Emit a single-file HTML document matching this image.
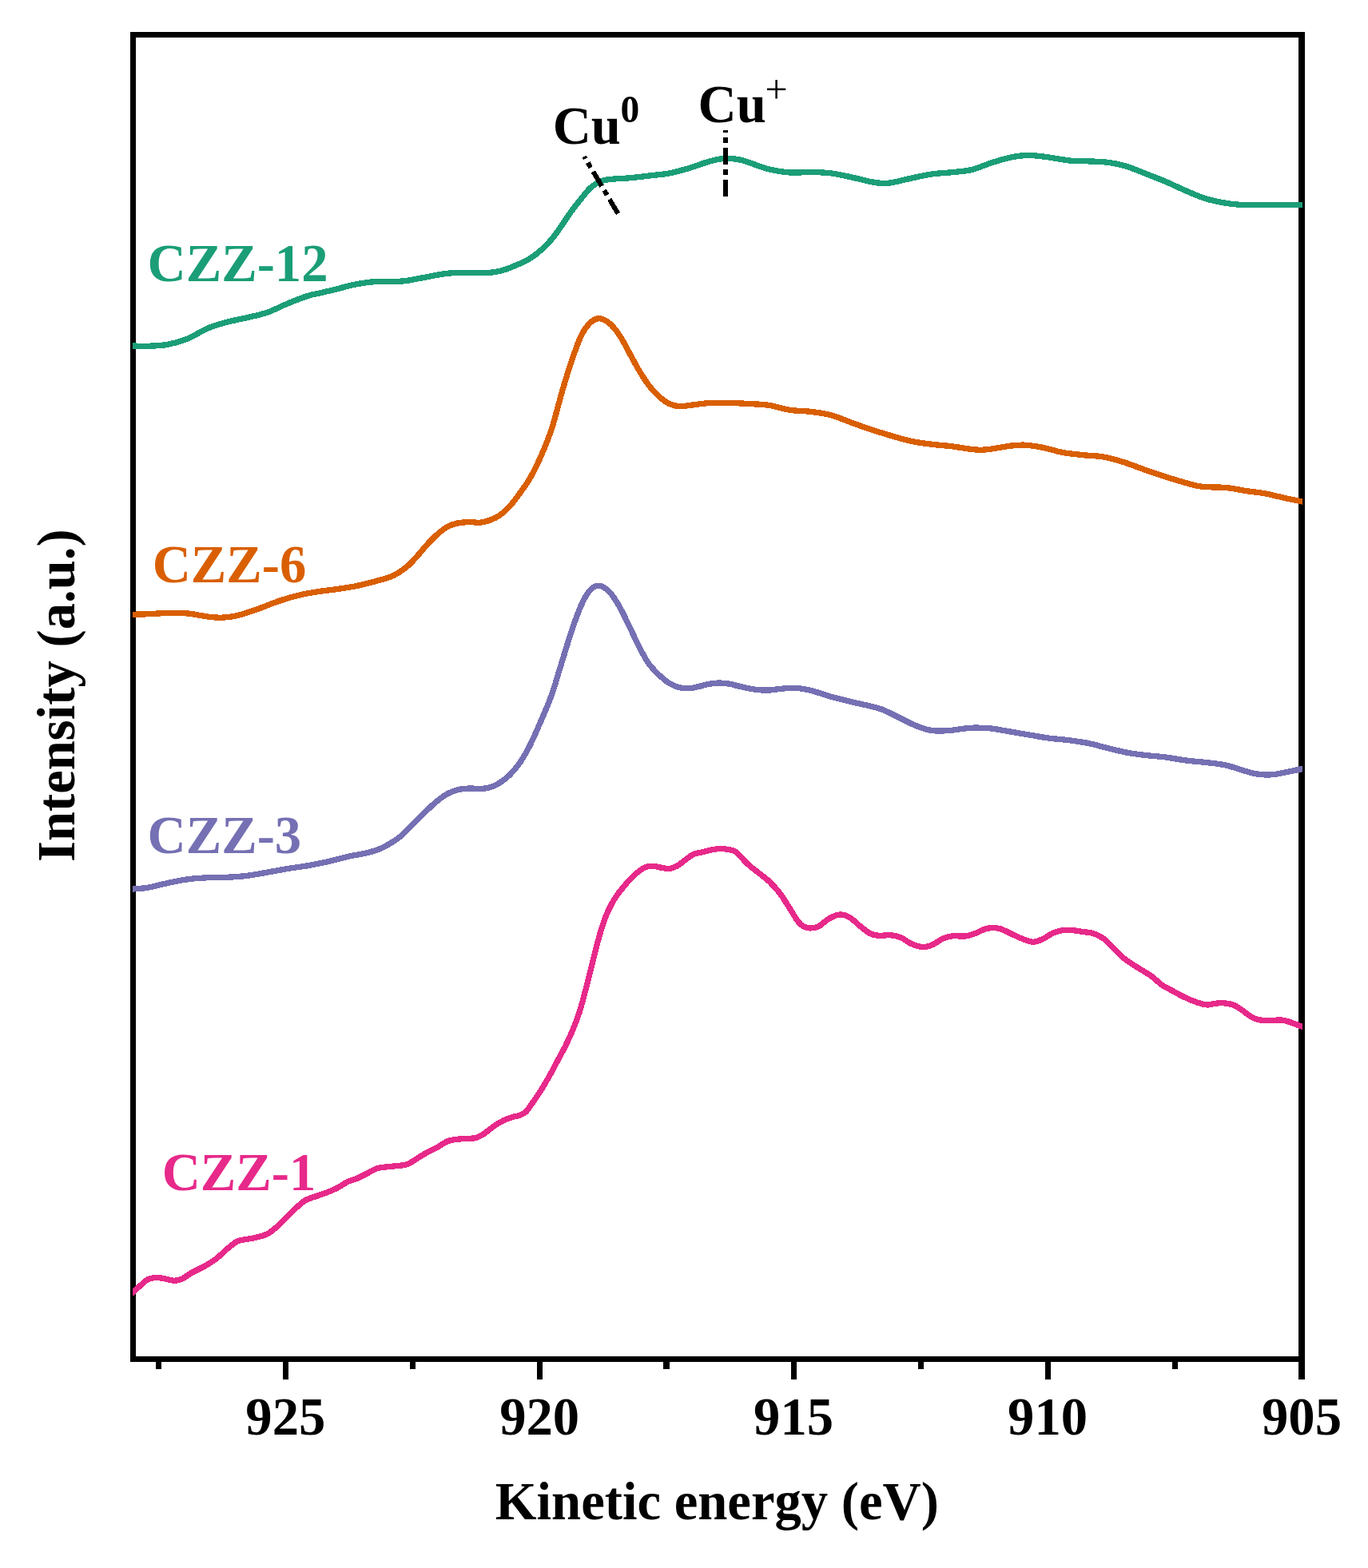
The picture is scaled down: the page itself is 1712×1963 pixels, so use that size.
<!DOCTYPE html>
<html lang="en"><head><meta charset="utf-8"><title>Cu LMM Auger spectra</title>
<style>html,body{margin:0;padding:0;background:#fff}body{width:1712px;height:1963px;overflow:hidden}svg{display:block}text{font-family:"Liberation Serif","Times New Roman",serif;font-weight:bold}</style></head><body>
<svg width="1712" height="1963" viewBox="0 0 1712 1963" role="img" aria-label="Cu LMM Auger spectra of CZZ catalysts">
<rect x="0" y="0" width="1712" height="1963" fill="#fff"/>
<g fill="#000" shape-rendering="crispEdges">
<rect x="163" y="40" width="1470" height="7"/>
<rect x="163" y="1698" width="1470" height="7"/>
<rect x="163" y="40" width="7" height="1665"/>
<rect x="1625" y="40" width="8" height="1665"/>
<rect x="354" y="1698" width="7" height="29"/>
<rect x="672" y="1698" width="7" height="29"/>
<rect x="990" y="1698" width="7" height="29"/>
<rect x="1308" y="1698" width="7" height="29"/>
<rect x="1625" y="1698" width="8" height="29"/>
<rect x="195" y="1698" width="7" height="16"/>
<rect x="513" y="1698" width="7" height="16"/>
<rect x="830" y="1698" width="8" height="16"/>
<rect x="1149" y="1698" width="7" height="16"/>
<rect x="1467" y="1698" width="7" height="16"/>
</g>
<clipPath id="plotclip"><rect x="166" y="40" width="1464" height="1665"/></clipPath>
<path clip-path="url(#plotclip)" d="M160.00,1623.33C161.00,1622.44 163.50,1620.22 166.00,1618.00C168.50,1615.78 171.83,1612.71 175.00,1610.00C178.17,1607.29 181.67,1603.50 185.00,1601.75C188.33,1600.00 191.67,1599.71 195.00,1599.50C198.33,1599.29 201.25,1599.88 205.00,1600.50C208.75,1601.12 213.75,1603.12 217.50,1603.25C221.25,1603.38 223.75,1602.92 227.50,1601.25C231.25,1599.58 235.42,1595.83 240.00,1593.25C244.58,1590.67 250.00,1588.58 255.00,1585.75C260.00,1582.92 265.00,1580.04 270.00,1576.25C275.00,1572.46 280.42,1566.75 285.00,1563.00C289.58,1559.25 293.33,1555.71 297.50,1553.75C301.67,1551.79 305.83,1552.08 310.00,1551.25C314.17,1550.42 318.33,1549.88 322.50,1548.75C326.67,1547.62 330.83,1546.79 335.00,1544.50C339.17,1542.21 343.33,1538.67 347.50,1535.00C351.67,1531.33 355.83,1526.58 360.00,1522.50C364.17,1518.42 368.75,1513.83 372.50,1510.50C376.25,1507.17 378.33,1504.75 382.50,1502.50C386.67,1500.25 392.92,1498.67 397.50,1497.00C402.08,1495.33 405.83,1494.17 410.00,1492.50C414.17,1490.83 418.33,1489.17 422.50,1487.00C426.67,1484.83 430.83,1481.50 435.00,1479.50C439.17,1477.50 443.33,1476.79 447.50,1475.00C451.67,1473.21 455.83,1470.83 460.00,1468.75C464.17,1466.67 468.33,1463.83 472.50,1462.50C476.67,1461.17 480.83,1461.25 485.00,1460.75C489.17,1460.25 493.33,1460.04 497.50,1459.50C501.67,1458.96 505.83,1459.08 510.00,1457.50C514.17,1455.92 518.33,1452.50 522.50,1450.00C526.67,1447.50 530.83,1444.79 535.00,1442.50C539.17,1440.21 543.33,1438.54 547.50,1436.25C551.67,1433.96 555.83,1430.42 560.00,1428.75C564.17,1427.08 567.83,1426.83 572.50,1426.25C577.17,1425.67 584.17,1425.54 588.00,1425.25C591.83,1424.96 592.58,1425.46 595.50,1424.50C598.42,1423.54 601.75,1421.92 605.50,1419.50C609.25,1417.08 613.83,1412.83 618.00,1410.00C622.17,1407.17 626.75,1404.38 630.50,1402.50C634.25,1400.62 637.17,1399.79 640.50,1398.75C643.83,1397.71 647.58,1397.38 650.50,1396.25C653.42,1395.12 655.42,1394.50 658.00,1392.00C660.58,1389.50 662.83,1385.75 666.00,1381.25C669.17,1376.75 673.33,1370.83 677.00,1365.00C680.67,1359.17 684.50,1352.50 688.00,1346.25C691.50,1340.00 694.67,1333.75 698.00,1327.50C701.33,1321.25 704.92,1315.00 708.00,1308.75C711.08,1302.50 713.67,1296.88 716.50,1290.00C719.33,1283.12 722.42,1275.42 725.00,1267.50C727.58,1259.58 729.67,1251.25 732.00,1242.50C734.33,1233.75 736.79,1223.75 739.00,1215.00C741.21,1206.25 743.20,1197.92 745.25,1190.00C747.30,1182.08 749.17,1174.58 751.30,1167.50C753.42,1160.42 755.72,1153.33 758.00,1147.50C760.28,1141.67 762.70,1136.88 765.00,1132.50C767.30,1128.12 769.22,1125.00 771.80,1121.25C774.38,1117.50 777.38,1113.75 780.50,1110.00C783.62,1106.25 787.17,1102.08 790.50,1098.75C793.83,1095.42 797.58,1092.21 800.50,1090.00C803.42,1087.79 805.08,1086.42 808.00,1085.50C810.92,1084.58 814.67,1084.38 818.00,1084.50C821.33,1084.62 824.67,1085.75 828.00,1086.25C831.33,1086.75 834.67,1087.92 838.00,1087.50C841.33,1087.08 844.67,1085.62 848.00,1083.75C851.33,1081.88 854.67,1078.62 858.00,1076.25C861.33,1073.88 864.67,1071.04 868.00,1069.50C871.33,1067.96 874.67,1067.83 878.00,1067.00C881.33,1066.17 884.25,1065.25 888.00,1064.50C891.75,1063.75 896.33,1062.62 900.50,1062.50C904.67,1062.38 909.67,1063.12 913.00,1063.75C916.33,1064.38 918.00,1064.58 920.50,1066.25C923.00,1067.92 925.08,1070.83 928.00,1073.75C930.92,1076.67 934.25,1080.44 938.00,1083.75C941.75,1087.06 946.33,1090.27 950.50,1093.60C954.67,1096.93 958.70,1099.56 963.00,1103.75C967.30,1107.94 971.92,1112.92 976.30,1118.75C980.68,1124.58 985.55,1132.92 989.30,1138.75C993.05,1144.58 996.02,1150.21 998.80,1153.75C1001.58,1157.29 1003.51,1158.64 1006.00,1160.00C1008.49,1161.36 1010.58,1161.98 1013.75,1161.90C1016.92,1161.82 1021.04,1161.48 1025.00,1159.50C1028.96,1157.52 1033.12,1152.42 1037.50,1150.00C1041.88,1147.58 1046.92,1145.21 1051.25,1145.00C1055.58,1144.79 1059.29,1146.33 1063.50,1148.75C1067.71,1151.17 1072.25,1156.17 1076.50,1159.50C1080.75,1162.83 1085.08,1166.79 1089.00,1168.75C1092.92,1170.71 1095.67,1170.92 1100.00,1171.25C1104.33,1171.58 1110.42,1170.33 1115.00,1170.75C1119.58,1171.17 1123.33,1172.00 1127.50,1173.75C1131.67,1175.50 1135.42,1179.25 1140.00,1181.25C1144.58,1183.25 1150.42,1185.54 1155.00,1185.75C1159.58,1185.96 1163.33,1184.29 1167.50,1182.50C1171.67,1180.71 1175.83,1176.79 1180.00,1175.00C1184.17,1173.21 1187.92,1172.25 1192.50,1171.75C1197.08,1171.25 1202.92,1172.50 1207.50,1172.00C1212.08,1171.50 1215.83,1170.21 1220.00,1168.75C1224.17,1167.29 1228.75,1164.46 1232.50,1163.25C1236.25,1162.04 1239.17,1161.54 1242.50,1161.50C1245.83,1161.46 1248.75,1161.79 1252.50,1163.00C1256.25,1164.21 1260.83,1166.83 1265.00,1168.75C1269.17,1170.67 1272.92,1172.75 1277.50,1174.50C1282.08,1176.25 1287.92,1179.08 1292.50,1179.25C1297.08,1179.42 1300.75,1177.38 1305.00,1175.50C1309.25,1173.62 1313.67,1169.83 1318.00,1168.00C1322.33,1166.17 1326.83,1165.04 1331.00,1164.50C1335.17,1163.96 1338.83,1164.40 1343.00,1164.75C1347.17,1165.10 1351.83,1165.97 1356.00,1166.60C1360.17,1167.22 1363.83,1167.10 1368.00,1168.50C1372.17,1169.90 1377.00,1172.17 1381.00,1175.00C1385.00,1177.83 1388.08,1181.67 1392.00,1185.50C1395.92,1189.33 1400.33,1194.42 1404.50,1198.00C1408.67,1201.58 1412.92,1204.25 1417.00,1207.00C1421.08,1209.75 1424.92,1211.92 1429.00,1214.50C1433.08,1217.08 1437.33,1219.42 1441.50,1222.50C1445.67,1225.58 1449.83,1230.08 1454.00,1233.00C1458.17,1235.92 1462.33,1237.71 1466.50,1240.00C1470.67,1242.29 1474.83,1244.67 1479.00,1246.75C1483.17,1248.83 1487.33,1250.83 1491.50,1252.50C1495.67,1254.17 1500.67,1255.83 1504.00,1256.75C1507.33,1257.67 1508.58,1258.08 1511.50,1258.00C1514.42,1257.92 1518.17,1256.62 1521.50,1256.25C1524.83,1255.88 1527.75,1255.42 1531.50,1255.75C1535.25,1256.08 1540.25,1256.83 1544.00,1258.25C1547.75,1259.67 1550.67,1262.00 1554.00,1264.25C1557.33,1266.50 1560.67,1269.71 1564.00,1271.75C1567.33,1273.79 1569.83,1275.54 1574.00,1276.50C1578.17,1277.46 1584.00,1277.42 1589.00,1277.50C1594.00,1277.58 1599.83,1276.67 1604.00,1277.00C1608.17,1277.33 1609.67,1278.08 1614.00,1279.50C1618.33,1280.92 1626.33,1284.12 1630.00,1285.50C1633.67,1286.88 1635.00,1287.38 1636.00,1287.75" fill="none" stroke="#e7298a" stroke-width="7.3" stroke-linejoin="round" stroke-linecap="butt" shape-rendering="crispEdges"/>
<path clip-path="url(#plotclip)" d="M160.00,1113.55C161.00,1113.46 161.83,1113.38 166.00,1113.00C170.17,1112.62 177.67,1112.50 185.00,1111.25C192.33,1110.00 201.67,1107.25 210.00,1105.50C218.33,1103.75 226.67,1101.88 235.00,1100.75C243.33,1099.62 251.67,1099.17 260.00,1098.75C268.33,1098.33 276.67,1098.67 285.00,1098.25C293.33,1097.83 301.67,1097.29 310.00,1096.25C318.33,1095.21 326.67,1093.46 335.00,1092.00C343.33,1090.54 351.67,1088.88 360.00,1087.50C368.33,1086.12 376.67,1085.21 385.00,1083.75C393.33,1082.29 401.67,1080.62 410.00,1078.75C418.33,1076.88 426.67,1074.38 435.00,1072.50C443.33,1070.62 452.92,1069.29 460.00,1067.50C467.08,1065.71 471.25,1064.67 477.50,1061.75C483.75,1058.83 492.08,1053.83 497.50,1050.00C502.92,1046.17 505.83,1042.71 510.00,1038.75C514.17,1034.79 518.33,1030.42 522.50,1026.25C526.67,1022.08 530.83,1017.71 535.00,1013.75C539.17,1009.79 543.33,1005.83 547.50,1002.50C551.67,999.17 555.83,996.04 560.00,993.75C564.17,991.46 567.83,989.88 572.50,988.75C577.17,987.62 583.33,987.21 588.00,987.00C592.67,986.79 596.33,987.71 600.50,987.50C604.67,987.29 608.83,987.00 613.00,985.75C617.17,984.50 621.33,982.62 625.50,980.00C629.67,977.38 633.83,974.17 638.00,970.00C642.17,965.83 646.25,961.25 650.50,955.00C654.75,948.75 659.08,941.25 663.50,932.50C667.92,923.75 672.53,912.92 677.00,902.50C681.47,892.08 686.00,882.08 690.30,870.00C694.60,857.92 698.63,843.33 702.80,830.00C706.97,816.67 711.18,802.08 715.30,790.00C719.42,777.92 723.63,766.04 727.50,757.50C731.37,748.96 734.88,742.79 738.50,738.75C742.12,734.71 745.17,732.83 749.25,733.25C753.33,733.67 758.62,736.79 763.00,741.25C767.38,745.71 771.33,752.71 775.50,760.00C779.67,767.29 783.92,776.67 788.00,785.00C792.08,793.33 796.12,802.50 800.00,810.00C803.88,817.50 807.38,824.38 811.30,830.00C815.22,835.62 819.22,839.58 823.50,843.75C827.78,847.92 832.50,852.17 837.00,855.00C841.50,857.83 846.17,859.62 850.50,860.75C854.83,861.88 858.83,862.00 863.00,861.75C867.17,861.50 871.33,860.17 875.50,859.25C879.67,858.33 883.83,856.96 888.00,856.25C892.17,855.54 896.33,855.00 900.50,855.00C904.67,855.00 908.83,855.54 913.00,856.25C917.17,856.96 921.33,858.29 925.50,859.25C929.67,860.21 933.83,861.25 938.00,862.00C942.17,862.75 946.33,863.42 950.50,863.75C954.67,864.08 958.83,864.21 963.00,864.00C967.17,863.79 971.33,862.92 975.50,862.50C979.67,862.08 983.83,861.62 988.00,861.50C992.17,861.38 995.83,861.21 1000.50,861.75C1005.17,862.29 1009.25,862.96 1016.00,864.75C1022.75,866.54 1032.67,870.17 1041.00,872.50C1049.33,874.83 1057.67,876.75 1066.00,878.75C1074.33,880.75 1084.75,882.96 1091.00,884.50C1097.25,886.04 1099.33,886.46 1103.50,888.00C1107.67,889.54 1111.83,891.75 1116.00,893.75C1120.17,895.75 1124.33,897.92 1128.50,900.00C1132.67,902.08 1136.83,904.38 1141.00,906.25C1145.17,908.12 1149.33,909.88 1153.50,911.25C1157.67,912.62 1161.83,913.88 1166.00,914.50C1170.17,915.12 1174.33,915.04 1178.50,915.00C1182.67,914.96 1186.83,914.67 1191.00,914.25C1195.17,913.83 1199.33,913.00 1203.50,912.50C1207.67,912.00 1211.83,911.46 1216.00,911.25C1220.17,911.04 1224.33,911.12 1228.50,911.25C1232.67,911.38 1234.75,911.17 1241.00,912.00C1247.25,912.83 1258.17,914.92 1266.00,916.25C1273.83,917.58 1280.33,918.71 1288.00,920.00C1295.67,921.29 1303.67,922.88 1312.00,924.00C1320.33,925.12 1329.67,925.67 1338.00,926.75C1346.33,927.83 1353.67,928.79 1362.00,930.50C1370.33,932.21 1379.67,935.00 1388.00,937.00C1396.33,939.00 1404.00,941.04 1412.00,942.50C1420.00,943.96 1428.17,944.83 1436.00,945.75C1443.83,946.67 1451.00,946.96 1459.00,948.00C1467.00,949.04 1475.67,950.92 1484.00,952.00C1492.33,953.08 1500.67,953.50 1509.00,954.50C1517.33,955.50 1525.67,956.17 1534.00,958.00C1542.33,959.83 1552.75,963.71 1559.00,965.50C1565.25,967.29 1567.33,968.00 1571.50,968.75C1575.67,969.50 1579.83,969.92 1584.00,970.00C1588.17,970.08 1592.33,969.79 1596.50,969.25C1600.67,968.71 1603.42,967.88 1609.00,966.75C1614.58,965.62 1625.50,963.41 1630.00,962.50C1634.50,961.59 1635.00,961.49 1636.00,961.29" fill="none" stroke="#7570b3" stroke-width="7.3" stroke-linejoin="round" stroke-linecap="butt" shape-rendering="crispEdges"/>
<path clip-path="url(#plotclip)" d="M160.00,769.41C161.00,769.38 161.83,769.36 166.00,769.25C170.17,769.14 177.67,769.04 185.00,768.75C192.33,768.46 201.67,767.62 210.00,767.50C218.33,767.38 226.67,767.25 235.00,768.00C243.33,768.75 252.92,771.12 260.00,772.00C267.08,772.88 271.25,773.50 277.50,773.25C283.75,773.00 290.00,772.29 297.50,770.50C305.00,768.71 314.17,765.42 322.50,762.50C330.83,759.58 339.17,755.83 347.50,753.00C355.83,750.17 364.17,747.54 372.50,745.50C380.83,743.46 389.17,742.08 397.50,740.75C405.83,739.42 414.17,738.75 422.50,737.50C430.83,736.25 439.17,735.00 447.50,733.25C455.83,731.50 465.00,729.12 472.50,727.00C480.00,724.88 486.25,723.54 492.50,720.50C498.75,717.46 505.00,712.88 510.00,708.75C515.00,704.62 518.33,700.33 522.50,695.75C526.67,691.17 530.83,685.75 535.00,681.25C539.17,676.75 543.33,672.38 547.50,668.75C551.67,665.12 555.83,661.79 560.00,659.50C564.17,657.21 567.83,655.98 572.50,655.00C577.17,654.02 583.33,653.73 588.00,653.60C592.67,653.48 596.33,654.64 600.50,654.25C604.67,653.86 608.83,652.79 613.00,651.25C617.17,649.71 621.33,647.92 625.50,645.00C629.67,642.08 633.83,638.33 638.00,633.75C642.17,629.17 646.17,623.54 650.50,617.50C654.83,611.46 659.50,605.42 664.00,597.50C668.50,589.58 673.00,580.42 677.50,570.00C682.00,559.58 686.67,548.33 691.00,535.00C695.33,521.67 699.33,504.17 703.50,490.00C707.67,475.83 712.00,461.67 716.00,450.00C720.00,438.33 723.67,427.71 727.50,420.00C731.33,412.29 735.17,407.29 739.00,403.75C742.83,400.21 746.50,398.54 750.50,398.75C754.50,398.96 758.83,401.46 763.00,405.00C767.17,408.54 771.33,413.75 775.50,420.00C779.67,426.25 783.83,435.00 788.00,442.50C792.17,450.00 796.33,458.12 800.50,465.00C804.67,471.88 808.83,478.42 813.00,483.75C817.17,489.08 821.33,493.33 825.50,497.00C829.67,500.67 833.83,503.79 838.00,505.75C842.17,507.71 846.33,508.46 850.50,508.75C854.67,509.04 856.75,508.21 863.00,507.50C869.25,506.79 879.67,505.00 888.00,504.50C896.33,504.00 904.67,504.33 913.00,504.50C921.33,504.67 929.67,505.00 938.00,505.50C946.33,506.00 954.67,506.21 963.00,507.50C971.33,508.79 979.17,511.92 988.00,513.25C996.83,514.58 1007.17,514.38 1016.00,515.50C1024.83,516.62 1032.67,517.71 1041.00,520.00C1049.33,522.29 1057.67,526.25 1066.00,529.25C1074.33,532.25 1082.67,535.25 1091.00,538.00C1099.33,540.75 1107.67,543.33 1116.00,545.75C1124.33,548.17 1132.67,550.75 1141.00,552.50C1149.33,554.25 1157.67,555.21 1166.00,556.25C1174.33,557.29 1182.67,557.71 1191.00,558.75C1199.33,559.79 1209.75,561.75 1216.00,562.50C1222.25,563.25 1224.33,563.33 1228.50,563.25C1232.67,563.17 1234.75,562.88 1241.00,562.00C1247.25,561.12 1258.92,558.79 1266.00,558.00C1273.08,557.21 1276.83,556.83 1283.50,557.25C1290.17,557.67 1298.25,558.96 1306.00,560.50C1313.75,562.04 1321.67,564.96 1330.00,566.50C1338.33,568.04 1347.50,568.83 1356.00,569.75C1364.50,570.67 1372.67,570.54 1381.00,572.00C1389.33,573.46 1397.67,575.92 1406.00,578.50C1414.33,581.08 1422.17,584.42 1431.00,587.50C1439.83,590.58 1450.17,594.17 1459.00,597.00C1467.83,599.83 1476.50,602.46 1484.00,604.50C1491.50,606.54 1495.67,608.25 1504.00,609.25C1512.33,610.25 1524.83,609.62 1534.00,610.50C1543.17,611.38 1550.67,613.25 1559.00,614.50C1567.33,615.75 1575.67,616.46 1584.00,618.00C1592.33,619.54 1601.33,622.08 1609.00,623.75C1616.67,625.42 1625.50,627.09 1630.00,628.00C1634.50,628.91 1635.00,629.01 1636.00,629.21" fill="none" stroke="#d95f02" stroke-width="7.3" stroke-linejoin="round" stroke-linecap="butt" shape-rendering="crispEdges"/>
<path clip-path="url(#plotclip)" d="M160.00,432.91C161.00,432.92 161.83,432.93 166.00,433.00C170.17,433.07 177.67,433.58 185.00,433.30C192.33,433.02 201.67,432.85 210.00,431.30C218.33,429.75 226.67,427.38 235.00,424.00C243.33,420.62 251.67,414.50 260.00,411.00C268.33,407.50 276.67,405.25 285.00,403.00C293.33,400.75 301.67,399.50 310.00,397.50C318.33,395.50 326.67,393.92 335.00,391.00C343.33,388.08 351.67,383.42 360.00,380.00C368.33,376.58 378.33,372.67 385.00,370.50C391.67,368.33 394.00,368.42 400.00,367.00C406.00,365.58 414.00,363.73 421.00,362.00C428.00,360.27 435.00,358.07 442.00,356.60C449.00,355.13 457.00,353.87 463.00,353.20C469.00,352.53 472.17,352.73 478.00,352.60C483.83,352.47 492.33,352.68 498.00,352.40C503.67,352.12 507.33,351.58 512.00,350.90C516.67,350.22 521.33,349.18 526.00,348.30C530.67,347.42 535.33,346.47 540.00,345.60C544.67,344.73 549.67,343.73 554.00,343.10C558.33,342.47 561.33,342.03 566.00,341.80C570.67,341.57 576.67,341.70 582.00,341.70C587.33,341.70 593.00,341.85 598.00,341.80C603.00,341.75 607.50,341.78 612.00,341.40C616.50,341.02 620.67,340.52 625.00,339.50C629.33,338.48 631.33,338.13 638.00,335.30C644.67,332.47 656.33,328.38 665.00,322.50C673.67,316.62 681.72,309.58 690.00,300.00C698.28,290.42 708.12,274.00 714.70,265.00C721.28,256.00 725.45,251.00 729.50,246.00C733.55,241.00 735.42,238.12 739.00,235.00C742.58,231.88 747.00,229.05 751.00,227.30C755.00,225.55 756.83,225.25 763.00,224.50C769.17,223.75 779.67,223.55 788.00,222.80C796.33,222.05 804.67,221.00 813.00,220.00C821.33,219.00 829.67,218.42 838.00,216.80C846.33,215.18 854.67,212.77 863.00,210.30C871.33,207.83 880.50,204.01 888.00,202.00C895.50,199.99 901.75,198.58 908.00,198.25C914.25,197.92 920.50,199.08 925.50,200.00C930.50,200.92 931.75,201.75 938.00,203.75C944.25,205.75 954.67,209.96 963.00,212.00C971.33,214.04 979.17,215.42 988.00,216.00C996.83,216.58 1007.17,215.33 1016.00,215.50C1024.83,215.67 1032.67,215.92 1041.00,217.00C1049.33,218.08 1057.67,220.20 1066.00,222.00C1074.33,223.80 1084.58,226.55 1091.00,227.80C1097.42,229.05 1100.33,229.35 1104.50,229.50C1108.67,229.65 1109.92,229.78 1116.00,228.70C1122.08,227.62 1132.67,224.78 1141.00,223.00C1149.33,221.22 1157.67,219.21 1166.00,218.00C1174.33,216.79 1182.67,216.67 1191.00,215.75C1199.33,214.83 1207.67,214.50 1216.00,212.50C1224.33,210.50 1232.67,206.38 1241.00,203.75C1249.33,201.12 1258.50,198.29 1266.00,196.75C1273.50,195.21 1279.75,194.67 1286.00,194.50C1292.25,194.33 1298.50,195.25 1303.50,195.75C1308.50,196.25 1309.75,196.58 1316.00,197.50C1322.25,198.42 1332.67,200.50 1341.00,201.25C1349.33,202.00 1358.17,201.62 1366.00,202.00C1373.83,202.38 1380.83,202.50 1388.00,203.50C1395.17,204.50 1401.33,205.67 1409.00,208.00C1416.67,210.33 1425.67,214.25 1434.00,217.50C1442.33,220.75 1450.67,223.96 1459.00,227.50C1467.33,231.04 1475.67,235.21 1484.00,238.75C1492.33,242.29 1500.67,246.17 1509.00,248.75C1517.33,251.33 1526.92,253.00 1534.00,254.25C1541.08,255.50 1543.17,255.88 1551.50,256.25C1559.83,256.62 1570.92,256.46 1584.00,256.50C1597.08,256.54 1621.33,256.50 1630.00,256.50C1638.67,256.50 1635.00,256.50 1636.00,256.50" fill="none" stroke="#1b9e77" stroke-width="7.3" stroke-linejoin="round" stroke-linecap="butt" shape-rendering="crispEdges"/>
<line x1="908" y1="163" x2="908" y2="246" stroke="#000" stroke-width="6" stroke-dasharray="3 6 7 6 21 6 7 6 21" shape-rendering="crispEdges"/>
<line x1="731.20" y1="196.00" x2="773.45" y2="267.44" stroke="#000" stroke-width="6" stroke-dasharray="3 6 7 6 21 6 7 6 21" shape-rendering="crispEdges"/>
<text x="184.6" y="351.5" font-size="66.67" fill="#1b9e77">CZZ-12</text>
<text x="190.7" y="729" font-size="66.67" fill="#d95f02">CZZ-6</text>
<text x="184.6" y="1067.7" font-size="66.67" fill="#7570b3">CZZ-3</text>
<text x="202.7" y="1490" font-size="66.67" fill="#e7298a">CZZ-1</text>
<text x="691.7" y="180" font-size="66.67" fill="#000">Cu<tspan x="776.5" y="152.7" font-size="47.5">0</tspan></text>
<text x="873.5" y="152.8" font-size="66.67" fill="#000">Cu<tspan x="957.4" y="128.5" font-size="50" style="font-weight:normal">+</tspan></text>
<text x="357.3" y="1796" font-size="66.67" text-anchor="middle" fill="#000">925</text>
<text x="675.2" y="1796" font-size="66.67" text-anchor="middle" fill="#000">920</text>
<text x="993.1" y="1796" font-size="66.67" text-anchor="middle" fill="#000">915</text>
<text x="1311.1" y="1796" font-size="66.67" text-anchor="middle" fill="#000">910</text>
<text x="1629.0" y="1796" font-size="66.67" text-anchor="middle" fill="#000">905</text>
<text x="619.7" y="1902" font-size="66.67" fill="#000">Kinetic energy (eV)</text>
<text transform="translate(93.1,1079) rotate(-90)" font-size="66.67" fill="#000">Intensity (a.u.)</text>
</svg></body></html>
